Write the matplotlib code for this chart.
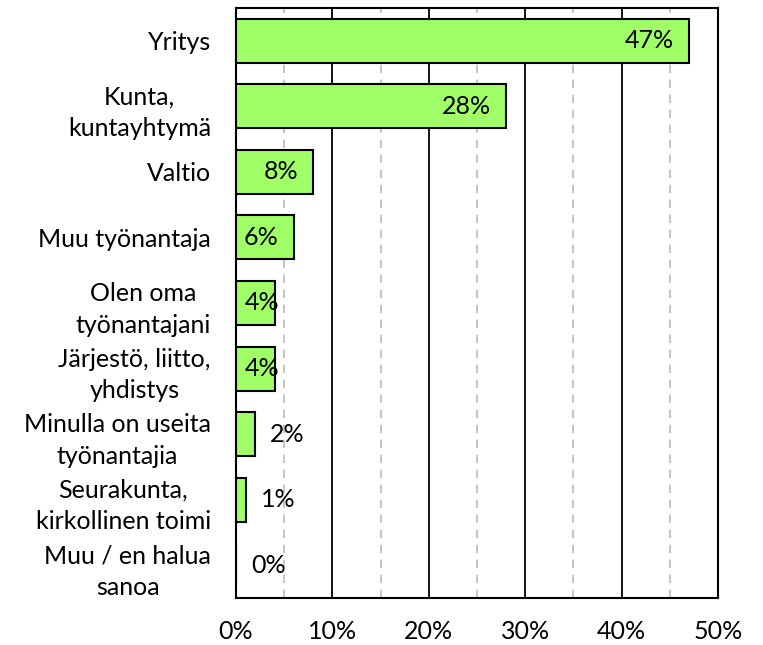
import matplotlib
matplotlib.use('Agg')
import matplotlib.pyplot as plt
from matplotlib.ticker import MultipleLocator, PercentFormatter
import matplotlib.transforms as mtransforms

plt.rcParams['font.family'] = ['Lato', 'DejaVu Sans']

categories = ['Yritys', 'Kunta,\nkuntayhtymä', 'Valtio', 'Muu työnantaja',
              'Olen oma\ntyönantajani', 'Järjestö, liitto,\nyhdistys',
              'Minulla on useita\ntyönantajia', 'Seurakunta,\nkirkollinen toimi',
              'Muu / en halua\nsanoa']
values = [47, 28, 8, 6, 4, 4, 2, 1, 0]

bar_color = '#A0FF66'
fs = 18

fig = plt.figure(figsize=(7.63, 6.45), dpi=100)
ax = fig.add_axes([0.3093, 0.0729, 0.6317, 0.9147])

pos = list(range(len(categories)))
ax.barh(pos, values, height=0.67, color=bar_color, edgecolor='black', linewidth=1.5, zorder=3)
ax.set_ylim(len(categories) - 0.5, -0.5)
ax.set_xlim(0, 50)

ax.xaxis.set_major_locator(MultipleLocator(10))
ax.xaxis.set_minor_locator(MultipleLocator(5))
ax.xaxis.set_major_formatter(PercentFormatter(decimals=0))
ax.grid(which='major', axis='x', color='black', linewidth=1.3, zorder=1)
ax.grid(which='minor', axis='x', color='#BBBBBB', linewidth=1.2, linestyle=(0, (5, 4)), zorder=1)

ax.set_yticks(pos)
ax.set_yticklabels(categories, fontsize=fs, multialignment='center', linespacing=1.45)
ax.tick_params(axis='y', length=0, pad=18)
ax.tick_params(axis='x', which='both', length=0, pad=16, labelsize=fs)

for s in ax.spines.values():
    s.set_linewidth(1.5)
    s.set_color('black')

# data labels
for i, v in enumerate(values):
    label = f'{v}%'
    if v >= 6:
        off = mtransforms.offset_copy(ax.transData, fig=fig, x=-15, y=0, units='dots')
        ax.text(v, i, label, transform=off, ha='right', va='center', fontsize=fs, zorder=4)
    elif v >= 3:
        off = mtransforms.offset_copy(ax.transData, fig=fig, x=9, y=0, units='dots')
        ax.text(0, i, label, transform=off, ha='left', va='center', fontsize=fs, zorder=4)
    else:
        off = mtransforms.offset_copy(ax.transData, fig=fig, x=15, y=0, units='dots')
        ax.text(v, i, label, transform=off, ha='left', va='center', fontsize=fs, zorder=4)

fig.savefig('out.png', dpi=100)
